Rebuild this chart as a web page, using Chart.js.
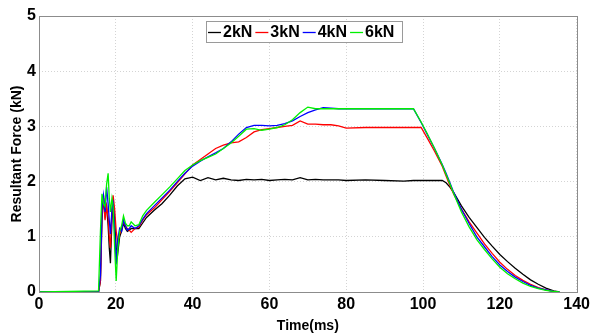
<!DOCTYPE html>
<html>
<head>
<meta charset="utf-8">
<script src="https://cdn.jsdelivr.net/npm/chart.js@4"></script>
<style>
  html, body { margin: 0; padding: 0; background: #fff; }
  #wrap { width: 593px; height: 336px; position: relative; }
</style>
</head>
<body>
<div id="wrap"><canvas id="forceChart"></canvas></div>
<script>
// time axis (ms), shared by all four loads
const timeMs = [0, 15.5, 16.0, 16.4, 16.8, 17.2, 17.6, 18.0, 18.3, 18.6, 19.0, 19.3, 19.7, 20.1, 20.5,
    21.0, 21.5, 22.0, 22.5, 23.0, 23.5, 24.0, 25, 26, 27, 28, 30, 32, 34, 36, 38, 40, 42, 44, 46, 48,
    50, 52, 54, 56, 58, 60, 62, 64, 66, 68, 70, 72, 74, 76, 78, 80, 85, 90, 95, 97.5, 99.5, 101, 103,
    105, 106, 107, 108, 110, 112, 114, 116, 118, 120, 122, 124, 126, 128, 130, 132, 134, 135.5];

// resultant force (kN)
const force2kN = [0, 0, 0.2, 1.3, 1.7, 1.4, 1.55, 1.2, 0.8, 0.52, 1.3, 1.6, 1.3, 0.8, 0.7,
    1.0, 1.1, 1.25, 1.15, 1.1, 1.12, 1.15, 1.15, 1.15, 1.25, 1.35, 1.48, 1.6, 1.75, 1.92, 2.05, 2.08, 2.02, 2.07, 2.03, 2.06,
    2.03, 2.02, 2.04, 2.03, 2.04, 2.02, 2.03, 2.04, 2.03, 2.07, 2.03, 2.04, 2.03, 2.03, 2.03, 2.02, 2.03, 2.02, 2.01, 2.02, 2.02, 2.02, 2.02,
    2.02, 1.98, 1.9, 1.8, 1.56, 1.35, 1.17, 0.99, 0.83, 0.68, 0.55, 0.43, 0.32, 0.22, 0.14, 0.07, 0.02, 0];
const force3kN = [0, 0, 0.2, 1.4, 1.75, 1.3, 1.55, 1.35, 1.0, 0.8, 1.5, 1.75, 1.5, 1.1, 0.9,
    1.05, 1.15, 1.28, 1.2, 1.15, 1.12, 1.08, 1.15, 1.18, 1.3, 1.4, 1.52, 1.67, 1.82, 1.98, 2.14, 2.3, 2.4, 2.5, 2.6, 2.66,
    2.7, 2.72, 2.8, 2.9, 2.94, 2.96, 2.98, 3.0, 3.02, 3.1, 3.04, 3.04, 3.03, 3.03, 3.01, 2.97, 2.98, 2.98, 2.98, 2.98, 2.98, 2.8, 2.55,
    2.28, 2.1, 1.93, 1.77, 1.5, 1.27, 1.07, 0.87, 0.7, 0.54, 0.41, 0.3, 0.21, 0.14, 0.08, 0.04, 0.01, 0];
const force4kN = [0, 0, 0.3, 1.5, 1.75, 1.45, 1.9, 1.6, 1.3, 1.05, 1.5, 1.6, 1.1, 0.5, 0.95,
    1.15, 1.1, 1.3, 1.2, 1.12, 1.15, 1.2, 1.15, 1.2, 1.32, 1.42, 1.56, 1.7, 1.84, 2.0, 2.15, 2.28, 2.37, 2.45, 2.52, 2.6,
    2.72, 2.86, 2.98, 3.02, 3.02, 3.01, 3.02, 3.05, 3.1, 3.18, 3.25, 3.3, 3.34, 3.33, 3.32, 3.32, 3.32, 3.32, 3.32, 3.32, 3.07, 2.87, 2.6,
    2.31, 2.15, 1.98, 1.8, 1.5, 1.24, 1.0, 0.82, 0.64, 0.49, 0.37, 0.27, 0.19, 0.12, 0.07, 0.04, 0.01, 0];
const force6kN = [0, 0.02, 1.1, 1.78, 1.6, 1.55, 1.95, 2.15, 1.7, 1.45, 1.7, 1.55, 0.8, 0.2, 0.75,
    1.1, 1.2, 1.38, 1.25, 1.2, 1.2, 1.27, 1.2, 1.22, 1.38, 1.48, 1.62, 1.76, 1.9, 2.05, 2.2, 2.3, 2.38, 2.44, 2.5, 2.6,
    2.7, 2.82, 2.95, 2.96, 2.93, 2.95, 2.98, 3.03, 3.12, 3.25, 3.35, 3.32, 3.32, 3.32, 3.32, 3.32, 3.32, 3.32, 3.32, 3.32, 3.08, 2.88, 2.6,
    2.3, 2.13, 1.96, 1.78, 1.45, 1.18, 0.95, 0.77, 0.6, 0.45, 0.33, 0.24, 0.16, 0.1, 0.06, 0.03, 0.01, 0];

const seriesLabels = ['2kN', '3kN', '4kN', '6kN'];
const seriesValues = [force2kN, force3kN, force4kN, force6kN];
const seriesColors = ['#000000', '#ff0000', '#0000ff', '#00f000'];

const xTicks = [0, 20, 40, 60, 80, 100, 120, 140];
const yTicks = [0, 1, 2, 3, 4, 5];

const font = "'Liberation Sans', Arial, sans-serif";

function toPoints(values) {
    return values.map((v, i) => ({ x: timeMs[i], y: v }));
}

// box round the plot area and the inline legend
const framePlugin = {
    id: 'frame',
    afterDraw(chart) {
        const { ctx, chartArea: a } = chart;
        ctx.save();
        ctx.strokeStyle = '#8c8c8c';
        ctx.lineWidth = 1;
        ctx.strokeRect(Math.round(a.left) + 0.5, Math.round(a.top) + 0.5,
            Math.round(a.right - a.left), Math.round(a.bottom - a.top));

        // legend
        const lx = 206, ly = 21, lw = 196, lh = 21;
        ctx.fillStyle = '#fff';
        ctx.fillRect(lx, ly, lw, lh);
        ctx.strokeStyle = '#9a9a9a';
        ctx.strokeRect(lx + 0.5, ly + 0.5, lw, lh);
        ctx.font = 'bold 16px ' + font;
        ctx.textBaseline = 'middle';
        let x = lx + 2;
        const cy = ly + lh / 2 + 1;
        chart.data.datasets.forEach(ds => {
            ctx.strokeStyle = ds.borderColor;
            ctx.lineWidth = 1.3;
            ctx.beginPath();
            ctx.moveTo(x, cy);
            ctx.lineTo(x + 13, cy);
            ctx.stroke();
            x += 15;
            ctx.fillStyle = '#000';
            ctx.fillText(ds.label, x, cy);
            x += ctx.measureText(ds.label).width + 3;
        });
        ctx.restore();
    }
};

const chart = new Chart(document.getElementById('forceChart'), {
    type: 'line',
    data: {
        datasets: seriesLabels.map((label, i) => ({
            label: label,
            data: toPoints(seriesValues[i]),
            borderColor: seriesColors[i],
            backgroundColor: seriesColors[i],
            borderWidth: 1.3,
            pointRadius: 0,
            tension: 0,
            order: seriesLabels.length - i
        }))
    },
    options: {
        responsive: true,
        maintainAspectRatio: false,
        animation: false,
        layout: { padding: { top: 16, right: 13, left: 0, bottom: 0 } },
        plugins: {
            legend: { display: false },
            tooltip: { enabled: false }
        },
        scales: {
            x: {
                type: 'linear',
                min: 0,
                max: 140,
                afterBuildTicks: s => { s.ticks = xTicks.map(v => ({ value: v })); },
                afterFit: s => { s.height = 44; },
                ticks: {
                    autoSkip: false,
                    maxRotation: 0,
                    padding: 3,
                    color: '#000',
                    font: { family: font, size: 16, weight: 'bold' }
                },
                grid: { color: '#d4d4d4', drawTicks: false },
                border: { display: false, dash: [1, 2] },
                title: {
                    display: true,
                    text: 'Time(ms)',
                    color: '#000',
                    padding: { top: 0, bottom: 1 },
                    font: { family: font, size: 14, weight: 'bold' }
                }
            },
            y: {
                min: 0,
                max: 5,
                afterBuildTicks: s => { s.ticks = yTicks.map(v => ({ value: v })); },
                afterFit: s => { s.width = 39; },
                ticks: {
                    autoSkip: false,
                    padding: 3,
                    color: '#000',
                    font: { family: font, size: 16, weight: 'bold' }
                },
                grid: { color: '#d4d4d4', drawTicks: false },
                border: { display: false, dash: [1, 2] },
                title: {
                    display: true,
                    text: 'Resultant Force (kN)',
                    color: '#000',
                    padding: { top: 9, bottom: 0 },
                    font: { family: font, size: 14, weight: 'bold' }
                }
            }
        }
    },
    plugins: [framePlugin]
});
</script>
</body>
</html>
